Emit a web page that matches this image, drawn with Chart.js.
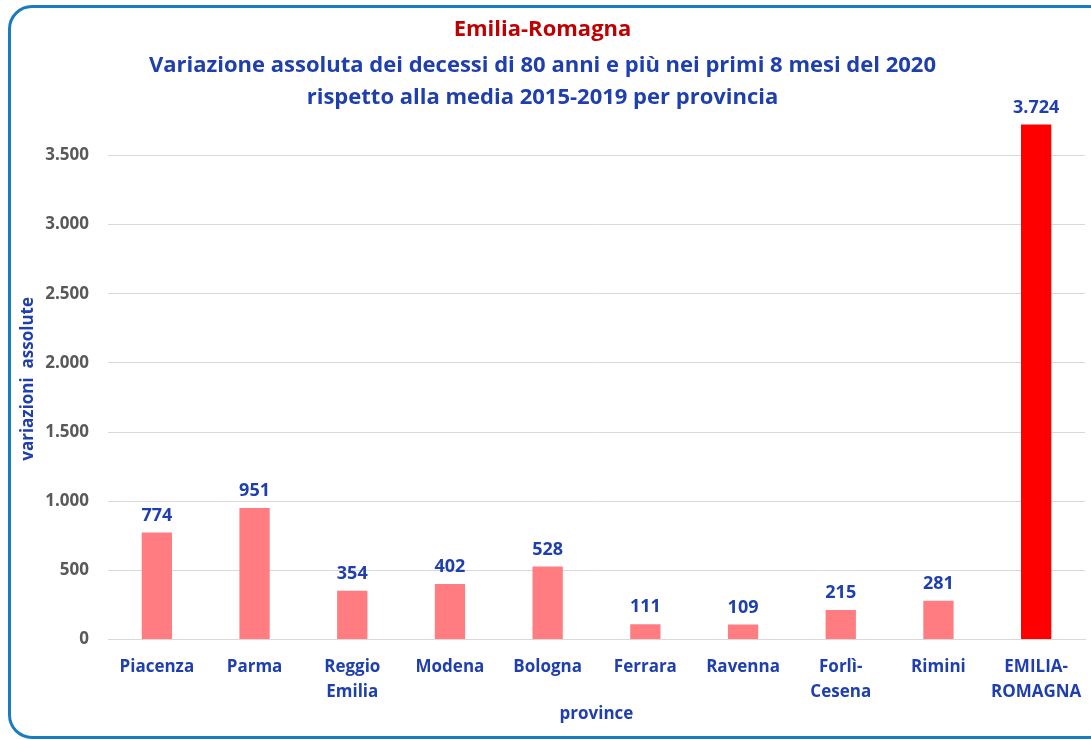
<!DOCTYPE html>
<html>
<head>
<meta charset="utf-8">
<script src="https://cdn.jsdelivr.net/npm/chart.js@4/dist/chart.umd.min.js"></script>
<style>
  html, body { margin: 0; padding: 0; background: #fff; overflow: hidden; }
  #frame { position: absolute; left: 8px; top: 5px; width: 1100px; height: 728px;
           border: 3px solid #1b7bbf; border-radius: 24px; }
  #wrap { position: absolute; left: 0; top: 0; width: 1091px; height: 740px; }
</style>
</head>
<body>
<div id="frame"></div>
<div id="wrap"><canvas id="chart"></canvas></div>
<script>
const provinces = [['Piacenza'], ['Parma'], ['Reggio', 'Emilia'], ['Modena'], ['Bologna'], ['Ferrara'],
                   ['Ravenna'], ['Forlì-', 'Cesena'], ['Rimini'], ['EMILIA-', 'ROMAGNA']];
const variazioni = [774, 951, 354, 402, 528, 111, 109, 215, 281, 3724];
const barColors = ['#ff7c80', '#ff7c80', '#ff7c80', '#ff7c80', '#ff7c80', '#ff7c80', '#ff7c80', '#ff7c80', '#ff7c80', '#ff0000'];
const yTicks = [0, 500, 1000, 1500, 2000, 2500, 3000, 3500];

const blue = '#1f3fae';
const fontFam = "'Open Sans', sans-serif";

function itNum(v){
    return String(v).replace(/\B(?=(\d{3})+(?!\d))/g, '.');
}

// draws the value above each bar
const valueLabels = {
    id: 'valueLabels',
    afterDatasetsDraw(chart){
        const ctx = chart.ctx;
        const meta = chart.getDatasetMeta(0);
        ctx.save();
        ctx.font = 'bold 18px ' + fontFam;
        ctx.fillStyle = blue;
        ctx.textAlign = 'center';
        ctx.textBaseline = 'bottom';
        meta.data.forEach((bar, i) => {
            ctx.fillText(itNum(variazioni[i]), bar.x, bar.y - 8);
        });
        ctx.restore();
    }
};

const ctx = document.getElementById('chart').getContext('2d');
new Chart(ctx, {
    type: 'bar',
    data: {
        labels: provinces,
        datasets: [{
            data: variazioni,
            backgroundColor: barColors,
            barPercentage: 0.31,
            categoryPercentage: 1
        }]
    },
    options: {
        responsive: true,
        maintainAspectRatio: false,
        animation: false,
        layout: { padding: { left: 0, right: 6, top: 10, bottom: 16 } },
        plugins: {
            legend: { display: false },
            tooltip: { enabled: false },
            title: {
                display: true,
                text: 'Emilia-Romagna',
                color: '#c00000',
                font: { family: fontFam, size: 22, weight: 'bold' },
                padding: { top: 7, bottom: 6 }
            },
            subtitle: {
                display: true,
                text: ['Variazione assoluta dei decessi di 80 anni e più nei primi 8 mesi del 2020',
                       'rispetto alla media 2015-2019 per provincia'],
                color: blue,
                font: { family: fontFam, size: 22, weight: 'bold', lineHeight: 1.47 },
                padding: { top: 0, bottom: 4 }
            }
        },
        scales: {
            x: {
                afterFit(scale){
                    scale.paddingRight = 0;
                },
                grid: { display: false, drawTicks: false },
                border: { color: '#d9d9d9' },
                ticks: {
                    color: blue,
                    font: { family: fontFam, size: 17, weight: 'bold', lineHeight: 1.47 },
                    padding: 15,
                    maxRotation: 0,
                    autoSkip: false
                },
                title: {
                    display: true,
                    text: 'province',
                    color: blue,
                    font: { family: fontFam, size: 17, weight: 'bold' },
                    padding: { top: -16, bottom: 0 }
                }
            },
            y: {
                min: 0,
                max: 3770,
                afterBuildTicks(scale){
                    scale.ticks = yTicks.map(v => ({ value: v }));
                },
                afterFit(scale){
                    scale.width = 108;
                },
                grid: { drawTicks: false, color: '#d9d9d9' },
                border: { display: false },
                ticks: {
                    color: '#595959',
                    font: { family: fontFam, size: 17, weight: 'bold' },
                    padding: 19,
                    callback: v => itNum(v)
                },
                title: {
                    display: true,
                    text: 'variazioni  assolute',
                    color: blue,
                    font: { family: fontFam, size: 17, weight: 'bold' },
                    padding: { top: 18, bottom: 0 }
                }
            }
        }
    },
    plugins: [valueLabels]
});
</script>
</body>
</html>
